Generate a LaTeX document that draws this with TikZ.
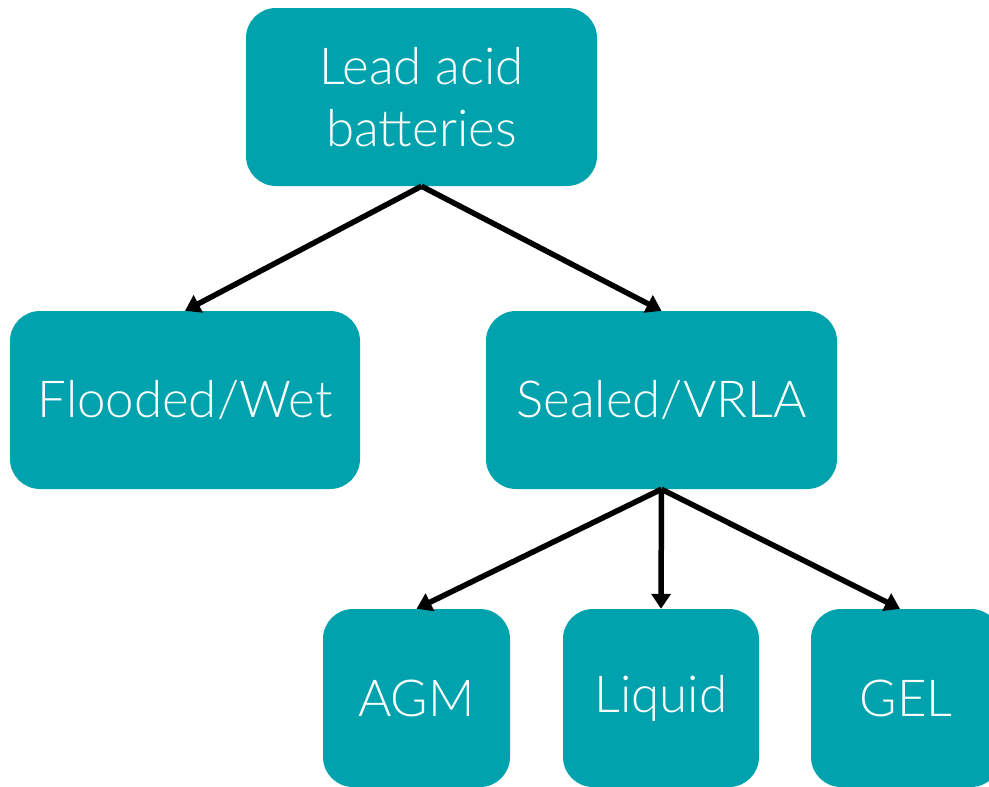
\documentclass[tikz,border=0pt]{standalone}
\usepackage{fontspec}
\setmainfont{Lato}[UprightFont={* Light}]
\usepackage{tikz}
\usetikzlibrary{arrows.meta}
\definecolor{tealbox}{HTML}{00A3AD}
\newcommand{\BoxFont}{\fontsize{51}{62}\selectfont}

\begin{document}
\begin{tikzpicture}[x=1pt,y=-1pt,
    box/.style={fill=tealbox,rounded corners=30pt,text=white,align=center,inner sep=0pt,font=\BoxFont},
    link/.style={-{Triangle[length=15pt,width=19pt]},line width=5.5pt,black}]
          \useasboundingbox (0,0) rectangle (989,787);
          \node[box,minimum width=351pt,minimum height=178pt] (lead) at (421.5,97) {Lead acid\\batteries};
          \node[box,minimum width=350pt,minimum height=178pt] (flooded) at (185,400) {Flooded/Wet};
          \node[box,minimum width=351pt,minimum height=178pt] (sealed) at (661.5,400) {Sealed/VRLA};
          \node[box,minimum width=187pt,minimum height=178pt] (agm) at (416.5,698) {AGM};
          \node[box,minimum width=196pt,minimum height=178pt] (liquid) at (661,698) {Liquid};
          \node[box,minimum width=190pt,minimum height=178pt] (gel) at (906,698) {GEL};
          \draw[link] (lead.south) -- (flooded.north);
          \draw[link] (lead.south) -- (sealed.north);
          \draw[link] (sealed.south) -- (agm.north);
          \draw[link] (sealed.south) -- (liquid.north);
          \draw[link] (sealed.south) -- ([xshift=-6pt]gel.north);
        \end{tikzpicture}
\end{document}
